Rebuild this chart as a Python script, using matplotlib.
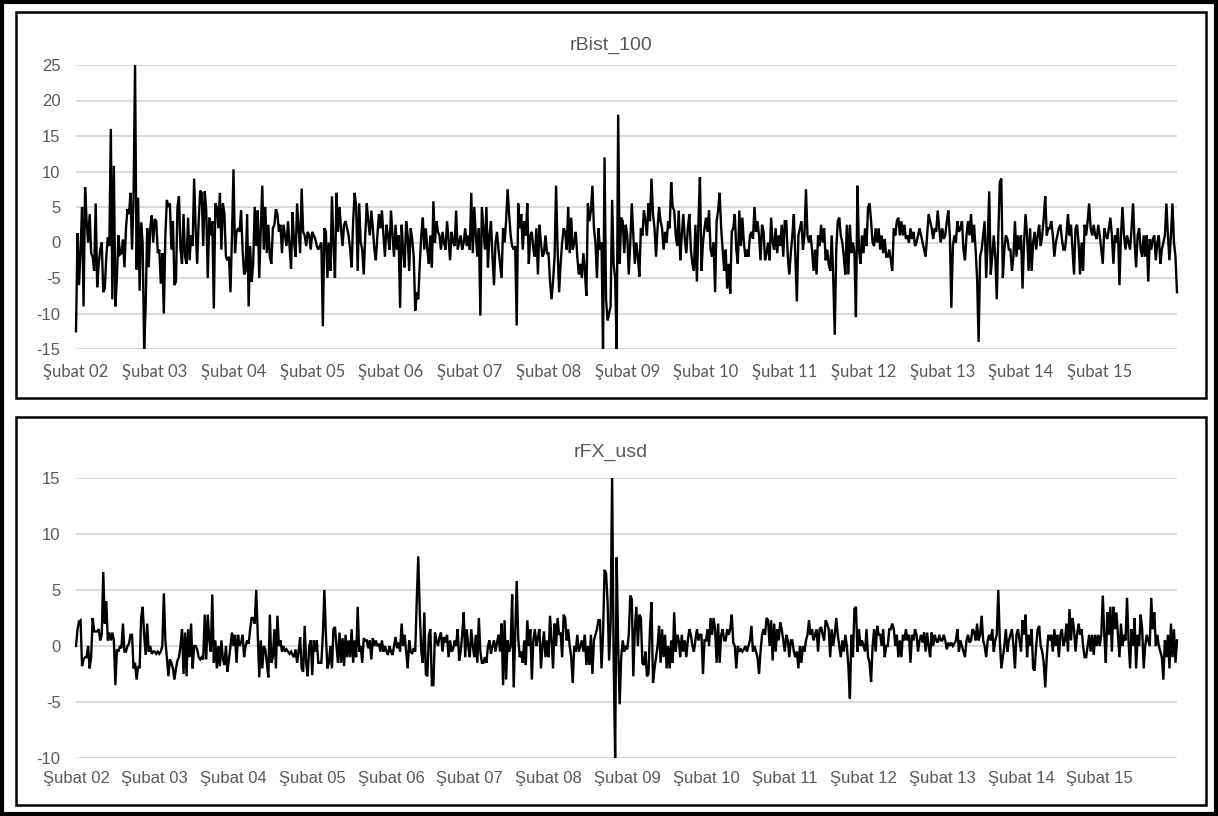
import numpy as np
import matplotlib.pyplot as plt
from matplotlib.patches import Rectangle

plt.rcParams["axes.unicode_minus"] = False

# x axis: weekly observations, one label per year (Feb of each year)
year_labels = ["Şubat 02", "Şubat 03", "Şubat 04", "Şubat 05", "Şubat 06", "Şubat 07", "Şubat 08",
               "Şubat 09", "Şubat 10", "Şubat 11", "Şubat 12", "Şubat 13", "Şubat 14", "Şubat 15"]
weeks_per_year = 52

# weekly returns, one row per year
rbist_100 = [
    -12.5, 1.3, -6, -1, 5, -9, 7.8, 3, 0, 4, -1.5, -2, -4, 5.5, -6.3, -3, -1, 0, -7, -6.5, -2, 0.7, -0.5, 16, -8, 10.8, -9, -5, 1, -1.7, -1.5, 0.4, -3.5, 2, 4.7, 4, 7, -1, 6.5, 25, -3.8, 6.3, -6.8, 2.8, 0, -15, -9, 2, -3.5, 2, 3.8, 0,
    3.3, 3, -1.5, -1, -5.8, -1.5, -10, 1, 6, 5, 5.5, -1, 3, -6, -5.5, 5, 6.5, -1, -3, 4, -2, -3, 3.5, -2.5, 1, -0.5, 9, 2, -3, 3, 7.3, 7, -0.5, 7.2, 4.5, -5, 3.5, 1, 3, -9.3, 5.5, 5, 2, 7, -1, 5.5, 4, -2, -2.5, -2, -7, 1,
    10.3, -1.5, 1.5, 2, 1.5, 4.5, -1, -4.5, -4, 4, -9, -0.5, -5.5, -3, 5, -0.5, 4.5, -5, 2, 8, -1, 5, -1.5, 2.5, -2, -3, 2, 2.5, 4.7, 4, 1.5, 2.5, -1.5, 2.5, 1, -0.5, 3, -0.5, -3.7, 4.3, 0, -2, 5.5, 2, -1.5, 7.6, 1.5, 1, -0.5, 1.5, 1, -1,
    1.5, 1, 0.5, -0.5, -1, -0.5, 0, -11.8, 2, 1.5, -5, 0, -4, 6.5, -0.5, -5, 7, 1.5, 5, 2, -0.5, 2.5, 3, 2, 1, -1, -3.5, 3, 7, 5, -4, 5.5, 0, -1, -4.5, 1, 5.5, 3, 1, 4.5, 2, -1, -2.5, 1, 4, 2, 4.5, 1, -2, 2.5, 1, -1,
    4.5, 1, -2, 2.5, -1, 1, -9.2, 2.5, -1, -3.5, 3, 1, -4, 2, 0.5, -2, -9.6, -7, -8, -3, 1, 3.5, -1, 2, -1, -3, 1, -3.5, 5.8, 0, 3, 1.5, 1, -1, 1.5, 0, -1, 3, 0.5, -2.5, 1.5, 0, -0.5, 4.5, -1, 0, 1, -1, 0, 2, -0.5, 1,
    -1, 7, -1.5, 5, 1, -2, 2, -10.3, 5, 2, -1, 5, -3.5, 1, 3, -2, -6, 0, 1.5, -1, -3, -5, 2, 0, 3, 7.5, 4, 1, -0.5, -1, -0.5, -11.7, 5.5, 2, 4, -1, 3, 1, 5.5, -3, 1, 1.5, -1, -2, 2, -4.5, 2.5, 0, -2, -1.5, 1, -1.5,
    -1.5, -5.5, -8, -5.5, -2, 8, -1, -7, -3, 0, 2, 1.5, -1, 5, -1.5, 3.5, -1, 0, 1.5, -2, -4.5, -3, -5, -1.5, -4, -7.5, 5.5, 3, 4.5, 8, 2, 0, -5, 2, -1, 0, -15, 12, -8, -11, -10, -9, 6, -3, -5, -15, 18, -3, 3.5, 3, -1.5, 2.5,
    1, -4.5, 0, 5.5, 1, -3, 0, -2, -4.8, 2, 1, 4.5, 3, 1, 5.5, 3, 9, 4, 2, -2, 2, 5, 3, 2, -1, 1.5, 0, 3, 2, 8.5, 5, 4.5, 1, -0.5, 4.5, -2.5, 1, 4, 0.5, -1.5, 2, 4, -1, -3, -4, 2.5, -5.5, 3, 9.2, -4, 0, 2,
    3.5, 1.5, 4.5, -1, -2, 0, -7, 3, 4.5, 7, 2, -1, -4, -1, -6.5, -3, -7.2, 1.5, 2, 4, -1, -3, 4.5, -0.5, 3.5, 0, -2, -1, -2, 1, 1.5, 0.5, 5, 1.5, 3, 1, -2.5, 2.5, 1.5, -2.5, -1.5, 0, -2.5, 3.5, 0, -1, 2, -1.5, 1, -0.5, 2.5, -2,
    3, 3, -2, -4.5, -1.5, 1, 4, -2, -8.3, 1, 2, 3, -1, 1, 7.5, 1, 0, 1, -1, -4, -1, -4.5, 1, -0.5, 2.5, 0, 2, -2.5, -1, -3, -4, 1, -5, -13, -1, 3, 3.5, 1, 0, -2, -4.5, 2.5, -4.5, 2.5, -1.5, 0, -1.5, -10.5, 8, -1, -3, 1,
    -1.5, 2, -0.5, 5, 5.5, 3, 0, -0.5, 2, 0, 2, -1, 1, -1.5, 0.5, -2, -2, -1, -2.5, -4, 2, 1, 3, 3.5, 1, 3, 1, 2.5, 0.5, 1, 0, 2, 0.5, 1.5, -0.5, 0, 1, 2, 1, 0, -1, -2, 1, 4, 3, 2, 0.5, 2, 1.5, 4.5, 2, 0,
    2, 0.5, 1, 3, 4.5, 1, -9.2, -0.5, 1, 0, 3, 1.5, 2, 3, -1, -2.5, 1, 3, 1, 4, 0, 2.5, -1, -5, -14, -2, -1, 1, 3, -5, 0, 7.2, -4.5, -2, 1, -2, -8, 1, 8.5, 9, -5, -1, 1, 0.5, -1, -1, -4, -2, 3, -2, 1, -1,
    1, -6.5, 0, 4, 1, -4, 2, -4, 0, 1.5, -1, 1, 2.5, -0.5, 1, 3.5, 6.5, 1, 2, 2, 3, 1, -2, 0, 1, 2, 2.5, 0.5, -1, -1, 1, 4, 1, 2.5, -1, -4.5, 2, 2.5, 0, -4.5, 0, -4, 2.5, 1, 3, 5.5, 2, 1, 2.5, 1, 0.5, 2.5,
    1, -1, -3, 2, 1, 0.5, 2, 3.5, 1, -3, 1, 0, 2, -6, 1, 5, 1, -1, 1, 0, -1, 2, 5.5, 0, -3.5, 1, 2, -1, -2, 1, -2, 1, -5.5, 0.5, -1, 0.5, 1, -2.5, 0, 1, -3, -1, 0, 1, 5.5, 1, -2.5, 1, 5.5, 0, -2, -7,
]

rfx_usd = [
    0, 1.5, 2.2, 2.3, -1.8, -1.2, -1, -1, 0, -2, -1, 2.5, 1.3, 1.3, 1.3, 1.5, 0.5, 1, 6.6, 2, 4, 0.5, 1.2, 0.5, 1.2, 0.5, -3.5, -0.3, -0.5, 0, -0.2, 2, -0.5, -0.5, 0, 0.2, 1, 1, -2, -1.5, -3, -1.8, -2, 2.5, 3.5, 1, -0.8, 2, -0.5, 0, -0.7, -0.5,
    -0.5, -0.7, -0.5, -0.7, -0.5, 0, 4.7, 0.5, -1, -2.7, -1.2, -1.5, -2, -3, -2, -1.3, -1, 0, 1.5, -2.5, 1.2, -2.7, 1.5, -1, 2, -2, 0, 0, -0.3, -1, -1.2, -1, -1.2, 2.8, -1.2, 2.8, 0.5, -0.5, 4.6, -1.5, 0.5, -2, 0, -1.8, 0.5, -1.2, -1.7, 0, -2.3, -1.2, 0, 1.2,
    0, 1, -1.5, 1, 0, 0.3, 1, -1, 0, 0.5, 0.2, 1.5, 2.5, 2.5, 2, 5, 1, -2.8, 0.5, -2, 0, -0.3, -1.5, -2.8, 2.8, -1.5, -1, 1.5, -2, 2.7, 0, 0.5, -0.5, 0, -0.5, -0.3, -0.5, -0.7, -0.5, -0.8, -1, -0.3, -1.5, -0.5, 0.8, -2, -2.3, 1.8, -1.5, -2.7, 0, 0.5,
    -2.6, 0.5, -0.5, 0.5, -1.5, -1.5, -1.5, 1, 5, 1, -2, -1.5, 0, -2, 1.5, 1.7, 0, -1.5, 1.2, -1.5, 0.7, -1.8, 1, -1, 0.5, -1, 1.5, -1.5, 0.5, -1, 3.5, -0.5, 0, -1.5, 0.7, 0.5, 0.5, -0.2, 0.5, -1.2, 0.7, 0, 0.5, 0, 0.2, -0.5, 0.5, -0.5, 0, -0.5, -0.8, 0,
    -0.5, -0.8, 0, 0.8, -0.2, 0.3, -0.5, 2, 0, 1, -0.5, -2, 0.5, -0.5, -0.7, -0.2, -0.5, 4.1, 8, 3, -0.5, -1.5, 3, -2.5, -2.7, 1, 1.5, -3.5, -3.5, 1.2, 0.5, 0, 0.8, 1.2, -0.5, 0.8, 0.3, 1, -1, 0.5, -0.5, -0.3, 0.5, 0, 1.5, -1.3, -0.5, 1, 3, -1, 1.5, 0,
    -1, 1.5, 0, -1, 1, -1.5, 2.5, -0.5, -1.5, -1.5, -1, -1.5, 0, 0.5, -0.7, 0, 0.5, -0.5, 0.3, 1, -0.5, 2, -3.5, 2.3, -3, 0.5, -0.5, 0, 4.6, -3.7, 1, 5.8, 0.7, -1, -0.5, -1.5, 0.5, -1.7, 2.3, 0, 1.5, -3, 0.5, 1.5, 0, 0.8, 1.5, -2, 0, 1.3, -1, 0.5,
    -1, 2.7, 0.5, -2, 2, 0, 2.5, 1, 1.2, -1, 2.8, 2.5, 0.5, 1.5, 0, -1, -3.3, 0, -0.5, 1, -0.5, 0, 0.5, -0.5, 1, -1.7, 0, -1.7, 1, -2.5, 0.5, 1, 1.5, 2.3, 2.3, -2, 1, 6.8, 6.5, 4, -1.3, 2, 15, -1, -10, 7.9, 0, -5.2, -1, 0.5, -0.5, 0,
    -0.3, 1, 4.5, 4.2, -2.7, 1.5, 3.5, 0, 2.8, 2.5, -1.5, -1.7, -0.5, -2.7, -2.5, 1.5, 3.9, -3.3, -2, -1, 0, 1.8, -1.5, 1.5, -1, 1, -2, 0, -2, 0.5, -1.5, 3, -0.5, 1, 0.5, -1, 1, -0.5, 0.5, -1, 0.5, 1.5, 1, 0, -0.5, 0.5, 1.5, 0.5, 1, 1, -2.5, 0.5,
    0.5, 1.5, 0, 2.5, 1, 2.5, 1.5, -1.5, 2, -1.5, 1, 1.5, 0.5, 0.5, 1.5, 1, 1.5, 2.8, 0.3, 0, -2, 0, -0.5, -0.3, -0.5, -0.3, 0, -0.5, 0, 0.5, 1.8, -0.5, 0, -0.5, -1, -2.5, -0.5, 1, 1.5, 1, 2.5, 2.3, 0, 2.3, -1.3, 2, -0.5, 1.5, 0.5, 2.1, 1.5, 0.5,
    -0.5, 1, 0.5, -1, 0.5, 0.5, -0.5, -1, -0.5, -2, 0, -1.5, 0, -0.5, 0.5, 1, 2.3, 1, 1.5, 0.5, 1, 1.5, -0.5, 1.5, 1.7, 1, 0.5, 2.3, 2, 1.5, -1, 1.5, 0, 1, 2.5, 1, 0, -1, 0.5, -0.5, 1, 0, -1.8, -4.7, 1, -1, 3.3, 3.5, -0.5, 1.5, 0, 0.5,
    0, -0.5, 1.5, -1, -1.5, -3.2, 0, 1.5, -0.5, 1.8, 1, 1, 0, 1.5, -1, 0, 0, 1.5, 1.5, 2, 1.5, 0, 1, -1, 0.5, -1, 1, 0.5, 1.5, 0.5, 1, -1.5, 1, 0.5, 1.5, 1, -0.5, 0.5, 1, 0.3, 1.2, -0.5, 1.2, 0, -1, 1.2, 0, 1, 0.5, 0.3, 1, 0.5,
    0.5, 1, 0.5, -0.3, 0.3, 0, 0.3, 0, 0.2, 0.5, 1.5, -0.5, 0.5, 0, -0.5, -1, 0.5, 1, 0.3, 0.5, 1.5, 1.3, 0.5, 2, 0.5, 1, 2.7, 0.5, 0, -1, 0.5, 1, 0.5, 1.5, -0.5, 0.5, 1, 5, 0.5, -2, -1, 0, 1.5, -0.5, 0.5, 1, 1.5, 0, -2, 1, 1.5, 0.5,
    -0.5, 2.3, 1, 2.8, -1, 1, 0, 1.5, -2, -2.2, 0, 1.5, 1.8, 0, -0.5, -1.5, -3.7, -1, 1, 0.5, 1, -0.5, 1.5, 0, 1, -1, 1, 1.5, 0, 0.5, 2, -0.5, 3.3, 0.5, 2.5, 1.5, -0.5, 1, 2, 1, 1.5, 0, -1, -1, 0, 1, -0.5, 1, -0.8, 1, 0, 1,
    0, 1, 4.5, 1, -1.5, 3, 1, 3.5, -0.5, 3.5, 1.5, 3, 1, -1, 2, 0, 1, 0.5, 4.3, 0.5, -2, 1.5, 0, 2.5, -2, 1, 0, 2.8, 1.5, -2, 0, 1, 0.5, 0, 4.3, 1.5, 3, 0, 1, 0, -0.5, -1, -3, 0.5, -1, 1, -2, 2, -1, 1.5, -1.5, 0.5,
]

W, H = 1218, 816
GRAY = "#595959"
GRID = "#d9d9d9"


def fig_box(x0, y0, x1, y1):
    # pixel box (top-left origin) -> figure fraction [left, bottom, width, height]
    return [x0 / W, 1 - y1 / H, (x1 - x0) / W, (y1 - y0) / H]


def draw_panel(ax, values, ylim, xfont, xpad):
    x = np.arange(len(values))
    ax.plot(x, values, color="black", lw=1.7, solid_joinstyle="miter", clip_on=False, zorder=3)
    ax.set_xlim(0, len(values) - 1)
    ax.set_ylim(*ylim)
    ax.set_yticks(np.arange(ylim[0], ylim[1] + 1, 5))
    ax.set_xticks(np.arange(len(year_labels)) * weeks_per_year)
    ax.set_xticklabels(year_labels, fontfamily=xfont, fontsize=12, color=GRAY)
    for lab in ax.get_yticklabels():
        lab.set_fontfamily("Liberation Sans")
        lab.set_fontsize(12)
        lab.set_color(GRAY)
    ax.tick_params(axis="both", length=0)
    ax.tick_params(axis="y", pad=11)
    ax.tick_params(axis="x", pad=xpad)
    ax.grid(axis="y", color=GRID, lw=1.4, zorder=0)
    ax.set_axisbelow(True)
    for s in ax.spines.values():
        s.set_visible(False)


fig = plt.figure(figsize=(W / 100, H / 100), dpi=100)

ax1 = fig.add_axes(fig_box(76, 65, 1177, 349))
draw_panel(ax1, rbist_100, (-15, 25), "Lato", 11)

ax2 = fig.add_axes(fig_box(76, 478, 1177, 758))
draw_panel(ax2, rfx_usd, (-10, 15), "Liberation Sans", 9)

fig.text(611 / W, 1 - 45 / H, "rBist_100", ha="center", va="center",
         fontfamily="Liberation Sans", fontsize=14, color=GRAY)
fig.text(611 / W, 1 - 452 / H, "rFX_usd", ha="center", va="center",
         fontfamily="Liberation Sans", fontsize=14, color=GRAY)

# panel frames and outer border
for box in [(16, 12, 1206, 398), (16, 417, 1206, 805)]:
    l, b, w, h = fig_box(*box)
    fig.add_artist(Rectangle((l, b), w, h, transform=fig.transFigure,
                             fill=False, edgecolor="black", lw=1.8))
l, b, w, h = fig_box(2, 2, 1216, 814)
fig.add_artist(Rectangle((l, b), w, h, transform=fig.transFigure,
                         fill=False, edgecolor="black", lw=3))

fig.savefig("out.png", dpi=100, facecolor="white")
